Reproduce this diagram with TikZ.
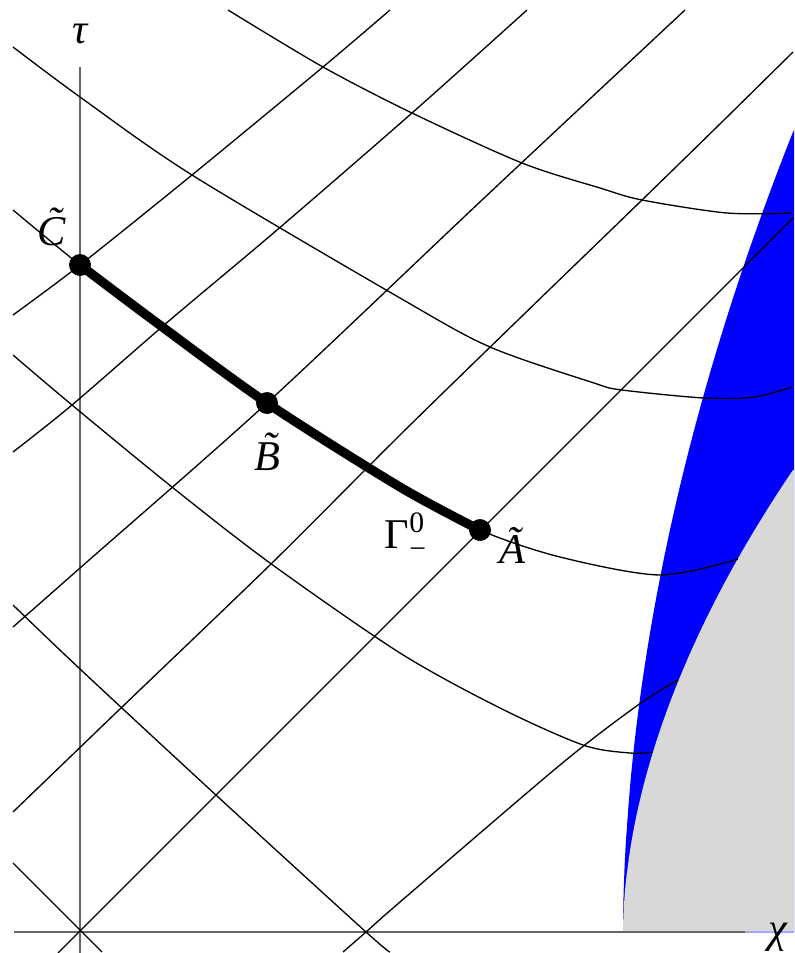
\documentclass[tikz,border=0pt]{standalone}
\usepackage{fontspec}
\setmainfont{Liberation Serif}
\usepackage{amsmath}
\definecolor{regiongray}{RGB}{216,216,216}
\newcommand\captilde[1]{\setbox0=\hbox{#1}\rlap{\hbox to \wd0{\hss\raisebox{0.2em}{\kern0.14em\char"02DC}\hss}}\box0}
\begin{document}
\begin{tikzpicture}[x=0.25pt,y=-0.25pt,
  grid/.style={line width=0.33pt, black},
  axisline/.style={line width=0.4pt, black!60},
  gam/.style={line width=2.3pt, black, line cap=round},
  dot/.style={circle, fill=black, inner sep=0pt, minimum size=5.4pt},
  lab/.style={font=\fontsize{10.6}{12}\selectfont, inner sep=0pt}]
\useasboundingbox (0,0) rectangle (794,953);
\fill[white] (0,0) rectangle (794,953);
% regions
\fill[blue] (794,130) -- plot[domain=800:1, samples=80] ({623+170*pow(\x/800,1.87)},{932-\x}) -- (623,932) -- (794,932) -- cycle;
\fill[regiongray] (623,932) -- plot[domain=1:462, samples=60] ({623+170*pow(\x/462,1.84)},{932-\x}) -- (794,470) -- (794,932) -- cycle;
% axes
\draw[axisline] (80,67) -- (80,953);
\draw[axisline] (14,932) -- (745,932);
\draw[line width=0.4pt, blue!35] (745,932) -- (794,932);
% grid curves, falling to the right
\draw[grid] plot[smooth] coordinates {(228,10) (323,67) (412,113) (522,163) (600,188) (642,200) (727,213) (792,213)};
\draw[grid] plot[smooth] coordinates {(13,47) (80,97) (192,175) (400,298) (490,347) (594,383) (622,390) (704,398) (754,397) (792,387)};
\draw[grid] plot[smooth] coordinates {(13,210) (80,265) (153,320) (267,403) (400,487) (480,530) (560,557) (660,575) (738,559)};
\draw[grid] plot[smooth] coordinates {(13,355) (72,405) (172,487) (270,563) (400,653) (500,708) (583,745) (630,753) (653,752)};
\draw[grid] plot[smooth] coordinates {(13,605) (80,669) (217,796) (366,932) (390,952)};
\draw[grid] (13,863) -- (102,952);
% grid lines, rising to the right
\draw[grid] plot[smooth] coordinates {(13,315) (80,265) (192,175) (323,67) (390,10)};
\draw[grid] plot[smooth] coordinates {(13,452) (72,405) (170,320) (277,230) (412,113) (527,10)};
\draw[grid] plot[smooth] coordinates {(13,627) (80,568) (267,403) (482,200) (685,10)};
\draw[grid] plot[smooth] coordinates {(13,812) (121,708) (272,563) (400,435) (518,320) (642,200) (724,120) (793,52)};
\draw[grid] (58,953) -- (793,218);
\draw[grid] plot[smooth] coordinates {(343,952) (366,932) (400,902) (560,765) (638,705) (678,680)};
% Gamma curve and points
\coordinate (g1) at (153,320);
\coordinate (g2) at (400,487);
\node[dot] (C) at (80,265) {};
\node[dot] (B) at (267,403) {};
\node[dot] (A) at (480,530) {};
\draw[gam] plot[smooth] coordinates {(C.center) (g1) (B.center) (g2) (A.center)};
\node[dot] at (C.center) {};
\node[dot] at (B.center) {};
\node[dot] at (A.center) {};
% labels
\node[lab] (tau) at (80,34) {\itshape τ};
\node[lab] (chi) at (778,937) {\itshape χ};
\node[lab] (Clab) at (52,227) {\itshape\captilde{C}};
\node[lab] (Blab) at (267,452) {\itshape\captilde{B}};
\node[lab] (Alab) at (512,545) {\itshape Ã};
\node[lab, anchor=base west] (Glab) at (384,548) {Γ$^{\text{0}}_{\text{−}}$};
\end{tikzpicture}
\end{document}
